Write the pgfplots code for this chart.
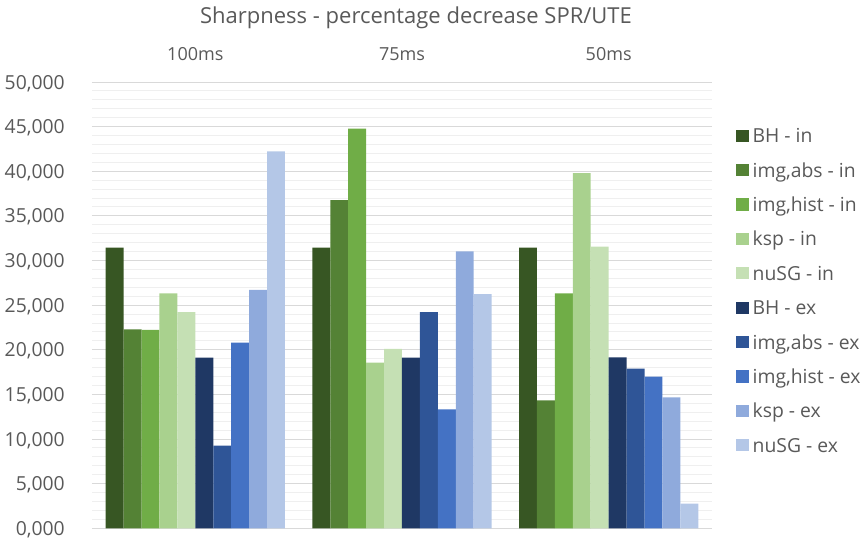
\documentclass[border=0pt]{standalone}
\usepackage{pgfplots}
\pgfplotsset{compat=1.18}
\usepackage{fontspec}
\setmainfont{Open Sans}
\definecolor{txt}{HTML}{595959}
\definecolor{gmaj}{HTML}{D9D9D9}
\definecolor{gmin}{HTML}{EFEFEF}
\definecolor{c1}{HTML}{375623}
\definecolor{c2}{HTML}{548235}
\definecolor{c3}{HTML}{70AD47}
\definecolor{c4}{HTML}{A9D18E}
\definecolor{c5}{HTML}{C5E0B4}
\definecolor{c6}{HTML}{1F3864}
\definecolor{c7}{HTML}{2F5597}
\definecolor{c8}{HTML}{4472C4}
\definecolor{c9}{HTML}{8FAADC}
\definecolor{c10}{HTML}{B4C7E7}
\begin{document}
\begin{tikzpicture}
\useasboundingbox (0,0) rectangle (648.75pt,405.75pt);
\node[anchor=base, text=txt, font=\fontsize{16.5}{19}\selectfont, inner sep=0pt] at (312pt,388.3pt) {Sharpness - percentage decrease SPR/UTE};
\begin{axis}[
  at={(69pt,9.525pt)}, anchor=south west,
  scale only axis, width=465pt, height=334.7pt,
  xmin=-0.5, xmax=2.5, ymin=0, ymax=50,
  xtick={0,1,2}, xticklabels={100ms,75ms,50ms},
  xticklabel pos=upper,
  ytick={0,5,...,50}, minor y tick num=4,
  major tick length=0pt, minor tick length=0pt,
  axis line style={draw=none},
  ymajorgrids, yminorgrids,
  major grid style={gmaj, line width=0.75pt},
  minor grid style={gmin, line width=0.75pt},
  /pgf/number format/assume math mode=true,
  /pgf/number format/fixed,
  /pgf/number format/fixed zerofill,
  /pgf/number format/precision=3,
  /pgf/number format/use comma,
  y tick label style={anchor=east, inner sep=0pt, text depth=0pt, xshift=-20.25pt, text=txt, font=\fontsize{14.5}{17}\selectfont},
  x tick label style={anchor=base, inner sep=0pt, yshift=16.5pt, text=txt, font=\fontsize{13.5}{16}\selectfont},
  legend style={at={(1.0387,0.9182)}, anchor=north west, draw=none, fill=none, inner sep=0pt, outer sep=0pt,
    column sep=3pt, row sep=0pt,
    nodes={inner sep=0pt, text height=18.1pt, text depth=7.7pt, text=txt, font=\fontsize{14.5}{17}\selectfont}},
  legend cell align=left,
  legend image code/.code={\path[#1] (0pt,-4.6pt) rectangle (9.5pt,4.6pt);},
]
\addplot[ybar, bar width=0.0867, bar shift=-0.39015, fill=c1, draw=none] coordinates {(0,31.44) (1,31.44) (2,31.44)};
\addplot[ybar, bar width=0.0867, bar shift=-0.30345, fill=c2, draw=none] coordinates {(0,22.29) (1,36.78) (2,14.34)};
\addplot[ybar, bar width=0.0867, bar shift=-0.21675, fill=c3, draw=none] coordinates {(0,22.22) (1,44.77) (2,26.33)};
\addplot[ybar, bar width=0.0867, bar shift=-0.13005, fill=c4, draw=none] coordinates {(0,26.33) (1,18.56) (2,39.80)};
\addplot[ybar, bar width=0.0867, bar shift=-0.04335, fill=c5, draw=none] coordinates {(0,24.23) (1,20.09) (2,31.55)};
\addplot[ybar, bar width=0.0867, bar shift=0.04335, fill=c6, draw=none] coordinates {(0,19.12) (1,19.12) (2,19.16)};
\addplot[ybar, bar width=0.0867, bar shift=0.13005, fill=c7, draw=none] coordinates {(0,9.26) (1,24.23) (2,17.89)};
\addplot[ybar, bar width=0.0867, bar shift=0.21675, fill=c8, draw=none] coordinates {(0,20.80) (1,13.33) (2,16.99)};
\addplot[ybar, bar width=0.0867, bar shift=0.30345, fill=c9, draw=none] coordinates {(0,26.70) (1,31.03) (2,14.68)};
\addplot[ybar, bar width=0.0867, bar shift=0.39015, fill=c10, draw=none] coordinates {(0,42.23) (1,26.25) (2,2.76)};
\legend{BH - in, {img,abs - in}, {img,hist - in}, ksp - in, nuSG - in, BH - ex, {img,abs - ex}, {img,hist - ex}, ksp - ex, nuSG - ex}
\end{axis}
\end{tikzpicture}
\end{document}
